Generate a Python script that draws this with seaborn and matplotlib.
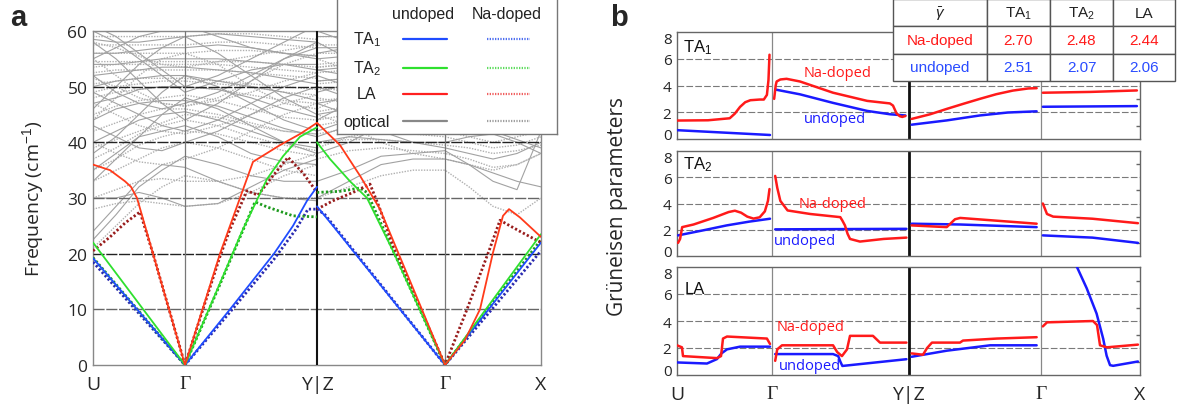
import numpy as np
import pandas as pd
import matplotlib
matplotlib.use("Agg")
import matplotlib.pyplot as plt
import seaborn as sns
from matplotlib.ticker import MultipleLocator

# ------------------------------------------------------------------ data
KPATH_POS = [0, 92, 224, 352, 448]
KPATH_LABELS = ["U", "Γ", "Y|Z", "Γ", "X"]

# ---- panel a : acoustic branches (k in path units, frequency in cm-1)
TA1_UND_K = [0, 92, 137, 181, 200, 214, 224, 224, 240, 307, 352, 448]
TA1_UND_F = [19.2, 0, 10, 20, 25, 29.5, 32, 28.5, 25, 10, 0, 22]
TA2_UND_K = [0, 92, 127, 150, 174, 190, 207, 224, 224, 237, 257, 274, 300, 352, 448]
TA2_UND_F = [22, 0, 14.7, 24.4, 33.4, 37.5, 41, 42.7, 40, 37, 33, 30, 20.5, 0, 23.5]
LA_UND_K = [0, 17, 32, 38, 44, 60, 92, 127, 147, 160, 187, 207, 224,
            224, 247, 267, 287, 307, 327, 352, 372, 387, 400, 410, 416, 427, 448]
LA_UND_F = [36, 35, 33, 32, 30, 20, 0, 20, 30, 36.5, 39.5, 41.5, 43.5,
            43.5, 39.5, 34, 28, 19.4, 10.8, 0, 4.5, 10, 20.2, 26.8, 28, 26.5, 23]

TA1_NA_K = [0, 92, 137, 181, 203, 215, 224, 224, 232, 307, 352, 448]
TA1_NA_F = [18.5, 0, 9.5, 19, 24.4, 28, 28, 28, 27, 10.1, 0, 20.5]
TA2_NA_K = [0, 92, 127, 162, 174, 200, 224, 224, 247, 267, 274, 300, 352, 448]
TA2_NA_F = [19.3, 0, 14.5, 29.3, 28.4, 26.8, 26.6, 31, 31.2, 31.8, 31, 20.6, 0, 22.5]
LA_NA_K = [0, 17, 32, 47, 60, 92, 127, 137, 154, 165, 180, 195, 210, 224,
           224, 240, 260, 277, 287, 300, 352, 374, 397, 407, 427, 448]
LA_NA_F = [20.5, 23, 25.5, 27.5, 20, 0, 19.5, 24.4, 31.3, 30.5, 34, 37.3, 34.5, 31,
           28, 29.5, 31, 32.5, 28, 21.4, 0, 10, 21, 26, 24, 22]

# ---- panel a : optical branches sampled along the path
OPT_K = [0, 23, 46, 69, 92, 125, 158, 191, 224, 224, 256, 288, 320, 352, 376, 400, 424, 448]
OPT_UNDOPED = [
    [22.5, 27, 32, 35, 37.5, 36, 34, 33, 33, 33, 35, 37.5, 38, 38.5, 36, 33, 31.5, 42],
    [24, 28.5, 33, 36, 35.5, 33, 31, 30, 29.5, 30, 33, 36, 37, 37, 36, 34.5, 33, 32],
    [30, 30, 31, 30, 28.5, 29, 32, 35, 37, 40, 41, 40.5, 40, 40, 41, 41.5, 40, 38],
    [35, 38, 41, 42, 43, 41, 38, 36.5, 36, 42, 44, 44, 43, 42, 43, 44, 45, 44],
    [40, 42, 44, 45, 45.5, 44, 42, 40, 39, 45, 46, 45.5, 44, 43.5, 45, 46.5, 47, 46],
    [44, 46, 47, 47.5, 47.5, 46.5, 44.5, 42.5, 41, 47, 48, 47.5, 46.5, 46, 47.5, 48.5, 48.5, 48],
    [47, 48, 49.5, 50, 50, 49.5, 48, 46, 44.5, 49, 50.5, 50, 49, 48.5, 49.5, 50, 50, 49.5],
    [50, 51, 51.5, 52, 52, 51, 50, 49, 47.5, 51, 51.5, 52, 51.5, 51, 52, 52, 52, 51.5],
    [52, 52.5, 53, 53.5, 53.5, 53, 52.5, 51.5, 50.5, 53, 53.5, 53.5, 53, 52.5, 53.5, 54, 53.5, 53],
    [54, 54, 54.5, 55, 55, 55, 54.5, 54, 53, 55, 55.5, 55, 54.5, 54.5, 55, 55.5, 55.5, 55],
    [56, 56, 56.5, 57, 57, 57.5, 57, 56, 55.5, 57, 57, 57.5, 57, 56.5, 57, 57.5, 57.5, 57],
    [58.5, 58, 58, 58.5, 59, 59.5, 59, 58.5, 58, 59, 59, 59.5, 59, 58.5, 59, 59.5, 59.5, 59],
    [46, 50, 54, 57, 59, 56, 52, 48, 45, 44, 47, 51, 55, 58, 56, 53, 50, 47],
    [58, 55, 51, 47, 44, 47, 51, 55, 58, 58, 55, 51, 48, 46, 49, 52, 55, 57],
    [49, 47, 45, 43, 42, 44, 47, 50, 52, 41, 43, 45, 46, 45, 44, 42, 40.5, 39],
    [52, 49, 47, 46, 47, 49, 52, 55, 57, 52, 50, 48, 47, 47, 48, 50, 52, 53],
    [43, 41, 39, 38.5, 40, 42, 45, 48, 50, 47, 45, 42, 40, 39, 38, 37, 38, 40],
    [61, 59, 56, 53, 50, 52, 55, 58, 61, 60, 58, 55, 52, 50, 53, 56, 59, 61],
    [38, 41, 45, 49, 52, 50, 47, 44, 42, 50, 48, 46, 45, 44, 46, 49, 52, 55],
    [60, 58, 55, 52, 49, 51, 53, 54, 54, 56, 57, 56, 54, 52, 50, 48, 46, 44],
    [33, 37, 41, 45, 48, 46, 43, 40, 38, 38, 40, 43, 46, 49, 47, 45, 43, 42],
    [55, 57, 59, 60, 61, 59, 57, 56, 55, 53, 52, 53, 55, 56, 55, 54, 52, 51],
]
OPT_NADOPED = [
    [21, 25, 29, 32, 34, 33, 31, 30, 30, 30, 32, 34, 35, 35, 32, 28.5, 27, 30],
    [28, 29, 29.5, 29, 28.5, 29, 31, 34, 36, 37, 38.5, 39, 38.5, 38, 37, 35.5, 36, 38],
    [33, 35, 37, 39, 40, 39, 37, 35, 34, 39, 41, 42, 41.5, 41, 40, 39, 39.5, 41],
    [37, 39, 41.5, 43, 44, 43, 41, 39.5, 38.5, 43, 44, 44.5, 43.5, 43, 42.5, 42, 42.5, 43.5],
    [42, 43.5, 45, 46, 46, 45, 43.5, 42, 41.5, 45.5, 46.5, 46.5, 45.5, 45, 44.5, 44, 44.5, 45],
    [45, 46.5, 47.5, 48, 48.5, 47.5, 46, 44.5, 44, 47.5, 48, 48.5, 48, 47.5, 47, 46.5, 46.5, 47],
    [48, 49, 49.5, 50, 50, 49.5, 48.5, 47.5, 47, 49.5, 50, 50.5, 50, 49.5, 49, 48.5, 48.5, 49],
    [50.5, 51, 51.5, 51.5, 51.5, 51, 50.5, 50, 49.5, 51, 51.5, 52, 51.5, 51, 51, 50.5, 50.5, 51],
    [52.5, 53, 53, 53, 53, 53, 52.5, 52, 51.5, 52.5, 53, 53.5, 53, 52.5, 52.5, 52.5, 52.5, 52.5],
    [54.5, 54.5, 54.5, 54.5, 54.5, 54.5, 54.5, 54, 53.5, 54, 54.5, 55, 54.5, 54, 54, 54, 54, 54],
    [56, 56, 56, 56, 56, 56.5, 56.5, 56, 55.5, 56, 56, 56.5, 56, 56, 56, 55.5, 55.5, 56],
    [57.5, 57.5, 57.5, 57.5, 57.5, 58, 58, 57.5, 57, 57.5, 57.5, 58, 57.5, 57.5, 57.5, 57.5, 57.5, 57.5],
    [59, 59, 59, 59, 59, 59.5, 59.5, 59, 58.5, 59, 59, 59.5, 59, 59, 59, 59, 59, 59],
    [44, 48, 52, 55, 56, 54, 50, 47, 46, 46, 49, 52, 54, 55, 53, 50, 47, 45],
    [55, 52, 49, 47, 46.5, 48, 51, 54, 56, 55, 53, 50, 48, 47, 49, 51, 53, 55],
    [40, 38, 36.5, 36, 37, 39, 42, 45, 47, 45, 43, 40, 38, 37, 36, 35, 36, 38],
    [47, 45, 43, 42, 41.5, 43, 45, 47, 48.5, 48, 47, 46, 45, 44.5, 45.5, 47, 48, 48.5],
    [51.5, 50, 48, 47, 46.5, 47.5, 49, 51, 52.5, 50, 49, 48, 47, 46.5, 47, 48, 49.5, 50.5],
    [58, 57, 55.5, 54, 53.5, 54.5, 55.5, 56.5, 57.5, 53.5, 54, 54, 53.5, 53, 53.5, 54.5, 55.5, 56.5],
    [35, 37, 39.5, 41, 42, 41.5, 40, 38.5, 37.5, 41.5, 42.5, 43, 42.5, 42, 41, 40, 41, 42],
    [39, 40.5, 42, 43.5, 45, 44.5, 43, 42, 41.5, 44, 45, 45.5, 45, 44, 43.5, 43.5, 44, 44.5],
    [49, 50, 50.5, 51, 51, 50.5, 50, 49, 48.5, 50.5, 51, 51.5, 51, 50.5, 50.5, 50, 50, 50],
    [53.5, 54, 54, 54, 54, 54, 53.5, 53, 52.5, 53.5, 54, 54.5, 54, 53.5, 53.5, 53.5, 53.5, 53.5],
    [30, 31.5, 33, 33.5, 33, 33, 34, 36, 38, 40, 40.5, 40.5, 40, 39.5, 39, 38, 38.5, 39.5],
]

# ---- panel b : Grueneisen parameters
TA1_NA_GK = [0, 30, 51, 56, 61, 66, 71, 80, 84, 87, 88.5, 89.5,
             94, 95.5, 96.4, 100, 106, 119, 151, 184, 206, 209, 212.5, 215.7, 218, 221,
             227, 245, 261, 277, 293, 309, 325, 340, 348,
             354, 400, 445]
TA1_NA_G = [1.38, 1.4, 1.55, 1.9, 2.4, 2.75, 2.9, 2.95, 2.95, 3.3, 4.4, 6.3,
            3.0, 4.0, 4.3, 4.45, 4.5, 4.3, 3.46, 2.85, 2.66, 2.5, 1.9, 1.7, 1.65, 1.72,
            1.5, 1.85, 2.25, 2.63, 3.0, 3.35, 3.62, 3.78, 3.8,
            3.46, 3.52, 3.63]
TA1_UND_GK = [0, 45, 90, 95, 119, 151, 184, 206, 221, 227, 261, 293, 320, 348, 354, 445]
TA1_UND_G = [0.66, 0.48, 0.3, 3.7, 3.34, 2.7, 2.1, 1.85, 1.76, 1.07, 1.39, 1.76, 1.98, 2.07, 2.41, 2.46]

TA2_NA_GK = [1, 3, 5, 16, 35, 50, 56, 62, 68, 74, 80, 85, 88, 89.5,
             95, 97, 100, 107, 129, 158, 160, 162.5, 165, 167.4, 177, 200, 222,
             227, 261, 265, 269, 274, 348,
             354, 358, 364, 402, 446]
TA2_NA_G = [1.0, 1.3, 2.2, 2.4, 2.9, 3.35, 3.45, 3.3, 3.0, 2.85, 2.95, 3.4, 4.2, 5.1,
            6.1, 5.2, 4.2, 3.47, 3.2, 2.96, 2.7, 2.33, 1.7, 1.3, 1.1, 1.3, 1.4,
            2.33, 2.2, 2.5, 2.8, 2.9, 2.46,
            4.0, 3.2, 3.0, 2.84, 2.5]
TA2_UND_GK = [1, 25, 48, 70, 90, 95, 222, 227, 274, 348, 354, 402, 446]
TA2_UND_G = [1.57, 1.95, 2.33, 2.62, 2.84, 2.03, 2.07, 2.46, 2.4, 2.2, 1.57, 1.4, 1.0]

LA_NA_GK = [0, 4.8, 5.8, 38.7, 42.6, 44.5, 48.4, 87, 90,
            95, 97, 101.6, 151, 155, 159.6, 164.5, 167.4, 189.6, 196.4, 222,
            227, 238, 242, 246.7, 273.8, 276.7, 309.6, 348,
            354, 358, 402.5, 406.4, 409.3, 416, 446]
LA_NA_G = [2.2, 2.05, 1.4, 1.25, 1.4, 2.7, 2.85, 2.7, 2.3,
           1.05, 1.9, 2.2, 2.2, 1.7, 1.4, 1.9, 2.9, 2.9, 2.4, 2.4,
           1.6, 1.5, 2.0, 2.4, 2.4, 2.55, 2.7, 2.8,
           3.6, 3.9, 4.0, 3.7, 2.2, 2.05, 2.25]
LA_UND_GK = [0, 29, 38.7, 43, 48.4, 61, 90,
             95, 151, 156, 158, 160, 222,
             227, 261, 303, 348,
             380, 386.7, 396.4, 406, 412.4, 415.7, 419, 422, 446]
LA_UND_G = [0.93, 0.85, 1.18, 1.6, 1.9, 2.1, 2.1,
            1.55, 1.55, 1.4, 1.0, 0.67, 1.17,
            1.35, 1.8, 2.2, 2.2,
            9.6, 8.05, 6.43, 4.55, 2.68, 1.43, 0.73, 0.68, 1.0]

GAMMA_HEADER = ["$\\bar{\\gamma}$", "TA$_1$", "TA$_2$", "LA"]
GAMMA_NA = [2.70, 2.48, 2.44]
GAMMA_UND = [2.51, 2.07, 2.06]

# ------------------------------------------------------------------ style
sns.set_theme(style="white")
plt.rcParams["font.family"] = ["Open Sans", "DejaVu Sans"]
plt.rcParams["mathtext.fontset"] = "custom"
plt.rcParams["mathtext.rm"] = "Liberation Sans"
plt.rcParams["mathtext.it"] = "Liberation Sans:italic"

C_BLUE, C_GREEN, C_RED = "#1f4cff", "#2ee02e", "#ff3a1a"
C_BLUE_NA, C_GREEN_NA, C_RED_NA = "#2a2ab0", "#1e9a1e", "#981c1c"
C_OPT, C_OPT_NA = "#a2a2a2", "#b0b0b0"
G_RED, G_BLUE = "#ff1a1a", "#1a1aff"
DOT = (0, (0.8, 0.8))

W, H = 1181, 414


def box(l, t, r, b):
    return [l / W, 1 - b / H, (r - l) / W, (b - t) / H]


def frame(ks, vs, breaks=()):
    ks = np.asarray(ks, float)
    vs = np.asarray(vs, float)
    seg = np.zeros(len(ks), int)
    for i in range(1, len(ks)):
        new = ks[i] <= ks[i - 1] or any(ks[i - 1] < b < ks[i] for b in breaks)
        seg[i] = seg[i - 1] + int(new)
    return pd.DataFrame({"k": ks, "v": vs, "seg": seg})


def draw(ax, ks, vs, color, lw, ls="-", breaks=(), z=3):
    sns.lineplot(data=frame(ks, vs, breaks), x="k", y="v", units="seg",
                 estimator=None, sort=False, color=color, lw=lw,
                 linestyle=ls, ax=ax, legend=False, zorder=z)


def path_ticks(ax, size):
    ax.set_xticks(KPATH_POS)
    ax.set_xticklabels(KPATH_LABELS, fontsize=size)
    for t in ax.get_xticklabels():
        if t.get_text() == "Γ":
            t.set_fontfamily("Liberation Serif")


fig = plt.figure(figsize=(W / 100, H / 100), dpi=100)

# ------------------------------------------------------------------ panel a
axA = fig.add_axes(box(93, 32, 541, 366))
for br in OPT_NADOPED:
    draw(axA, OPT_K, br, C_OPT_NA, 1.0, (0, (1, 1)), z=2)
for br in OPT_UNDOPED:
    draw(axA, OPT_K, br, C_OPT, 0.8, z=2)
draw(axA, TA1_NA_K, TA1_NA_F, C_BLUE_NA, 2.0, DOT, z=4)
draw(axA, TA2_NA_K, TA2_NA_F, C_GREEN_NA, 2.0, DOT, z=4)
draw(axA, LA_NA_K, LA_NA_F, C_RED_NA, 2.0, DOT, z=4)
draw(axA, TA1_UND_K, TA1_UND_F, C_BLUE, 1.3, z=5)
draw(axA, TA2_UND_K, TA2_UND_F, C_GREEN, 1.3, z=5)
draw(axA, LA_UND_K, LA_UND_F, C_RED, 1.3, z=5)

for v in [10, 20, 30, 40, 50]:
    axA.axhline(v, color="#666" if v in (10, 30) else "#222", lw=1.0,
                ls=(0, (8, 1.2)), zorder=3)
axA.axvline(92, color="#777", lw=0.9, zorder=3)
axA.axvline(224, color="#111", lw=1.5, zorder=3)
axA.axvline(352, color="#777", lw=0.9, zorder=3)
axA.set_xlim(0, 448)
axA.set_ylim(0, 60)
axA.set_yticks(range(0, 61, 10))
axA.tick_params(axis="y", labelsize=12.5, length=0, pad=4)
axA.tick_params(axis="x", length=0, pad=7)
path_ticks(axA, 14)
axA.set_xlabel("")
axA.set_ylabel("Frequency (cm$^{-1}$)", fontsize=14)
axA.yaxis.set_label_coords(-0.105, 0.5)
for s in axA.spines.values():
    s.set_color("#888")
    s.set_linewidth(1.0)

# legend box
axL = fig.add_axes(box(337, -3, 557, 135))
axL.set_xlim(0, 1)
axL.set_ylim(0, 1)
axL.set_xticks([])
axL.set_yticks([])
axL.set_facecolor("white")
for s in axL.spines.values():
    s.set_color("#777")
    s.set_linewidth(1.0)
lfont = dict(family="Liberation Sans", fontsize=11.5, color="#222", va="center")
axL.text(0.39, 0.87, "undoped", ha="center", **lfont)
axL.text(0.773, 0.87, "Na-doped", ha="center", **lfont)
rows = [("TA$_1$", 0.688, C_BLUE, "#4f6ff0"),
        ("TA$_2$", 0.478, C_GREEN, "#5fdc5f"),
        ("LA", 0.29, "#ff2020", "#f06060"),
        ("optical", 0.094, "#888888", "#a0a0a0")]
for lab, y, cs, cd in rows:
    axL.text(0.136, y, lab, ha="center", **lfont)
    axL.plot([0.3, 0.5], [y, y], color=cs, lw=1.6)
    axL.plot([0.682, 0.877], [y, y], color=cd, lw=1.6, ls=(0, (0.6, 0.6)))

fig.text(10 / W, 1 - 26 / H, "a", fontsize=21, fontweight="bold",
         family="Liberation Sans", va="baseline")
fig.text(610 / W, 1 - 26 / H, "b", fontsize=21, fontweight="bold",
         family="Liberation Sans", va="baseline")

# ------------------------------------------------------------------ panel b
rects = [box(677, 33, 1140, 140), box(677, 152, 1140, 257), box(677, 268, 1140, 376)]
series = [
    ("TA$_1$", TA1_NA_GK, TA1_NA_G, TA1_UND_GK, TA1_UND_G,
     (155, 5.0), (153, 1.57), (5.5, 6.9)),
    ("TA$_2$", TA2_NA_GK, TA2_NA_G, TA2_UND_GK, TA2_UND_G,
     (151, 4.0), (124, 1.17), (5.5, 7.0)),
    ("LA", LA_NA_GK, LA_NA_G, LA_UND_GK, LA_UND_G,
     (129, 3.57), (129, 0.67), (7.5, 6.4)),
]
BREAKS = (92, 224, 352)
axesB = []
for idx, (rect, (name, nk, nv, uk, uv, npos, upos, tpos)) in enumerate(zip(rects, series)):
    ax = fig.add_axes(rect)
    axesB.append(ax)
    draw(ax, uk, uv, G_BLUE, 1.8, breaks=BREAKS, z=4)
    draw(ax, nk, nv, G_RED, 1.8, breaks=BREAKS, z=4)
    for v in [2, 4, 6]:
        ax.axhline(v, color="#7a7a7a", lw=0.8, ls=(0, (6, 2)), zorder=1)
    ax.axvline(92, color="#888", lw=0.9, zorder=2)
    ax.axvline(224, color="#111", lw=2.0, zorder=2)
    ax.axvline(352, color="#888", lw=0.9, zorder=2)
    ax.set_xlim(0, 448)
    ax.set_ylim(0, 8)
    ax.set_yticks([0, 2, 4, 6, 8])
    ax.set_yticklabels(["0", "2", "4", "6", "8"])
    for lab in ax.get_yticklabels():
        if lab.get_text() == "0":
            lab.set_verticalalignment("baseline")
        elif lab.get_text() == "8":
            lab.set_verticalalignment("top")
    ax.yaxis.set_minor_locator(MultipleLocator(1))
    ax.tick_params(axis="y", which="major", labelsize=11, length=0, pad=4)
    ax.tick_params(axis="y", which="minor", left=False, right=True,
                   direction="in", length=3, color="#666")
    ax.set_xlabel("")
    ax.set_ylabel("")
    for s in ax.spines.values():
        s.set_color("#666")
        s.set_linewidth(1.0)
    ax.text(npos[0], npos[1], "Na-doped", color=G_RED, ha="center",
            va="center", fontsize=10.5)
    ax.text(upos[0], upos[1], "undoped", color=G_BLUE, ha="center",
            va="center", fontsize=10.5)
    ax.text(tpos[0], tpos[1], name, color="#111", ha="left", va="center",
            fontsize=12, family="Liberation Sans")
    if idx < 2:
        ax.set_xticks(KPATH_POS)
        ax.set_xticklabels([])
        ax.tick_params(axis="x", length=0)

path_ticks(axesB[-1], 14)
axesB[-1].tick_params(axis="x", length=0, pad=7)
fig.text(617 / W, 0.5, "Grüneisen parameters", rotation=90, ha="center",
         va="center", fontsize=15)

# table
axT = fig.add_axes(box(893, 0, 1175, 82))
axT.axis("off")
cells = [GAMMA_HEADER,
         ["Na-doped"] + [f"{v:.2f}" for v in GAMMA_NA],
         ["undoped"] + [f"{v:.2f}" for v in GAMMA_UND]]
tbl = axT.table(cellText=cells, cellLoc="center",
                colWidths=[94 / 282, 63 / 282, 63 / 282, 62 / 282],
                bbox=[0, 0, 1, 1])
tbl.auto_set_font_size(False)
tbl.set_fontsize(11)
row_col = {0: "#222", 1: G_RED, 2: "#2a4cff"}
for (r, c), cell in tbl.get_celld().items():
    cell.set_edgecolor("#555")
    cell.set_linewidth(1.0)
    cell.set_facecolor("white")
    cell.get_text().set_color(row_col[r])
    cell.get_text().set_fontfamily("Liberation Sans")

fig.savefig("out.png", dpi=100)
